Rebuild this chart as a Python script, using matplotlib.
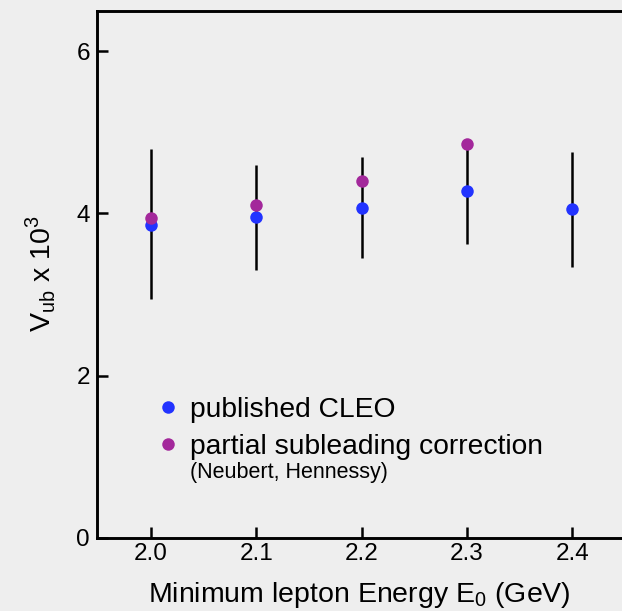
import numpy as np
import matplotlib
matplotlib.use("Agg")
import matplotlib.pyplot as plt

plt.rcParams['font.family'] = ['Liberation Sans', 'DejaVu Sans']
plt.rcParams['mathtext.fontset'] = 'custom'
plt.rcParams['mathtext.rm'] = 'Liberation Sans'

# minimum lepton energy cut (GeV)
e_cut = [2.0, 2.1, 2.2, 2.3, 2.4]
# published CLEO values (Vub x 10^3) with error bar ends
cleo = [3.86, 3.95, 4.07, 4.27, 4.05]
err_low = [2.94, 3.30, 3.45, 3.62, 3.34]
err_high = [4.79, 4.59, 4.70, 4.86, 4.76]
# with partial subleading correction
e_corr = [2.0, 2.1, 2.2, 2.3]
corrected = [3.94, 4.10, 4.40, 4.86]

x_ticks = [2.0, 2.1, 2.2, 2.3, 2.4]
y_ticks = [0, 2, 4, 6]

bg = '#eeeeee'
blue = '#2233ff'
purple = '#a3289b'

fig = plt.figure(figsize=(6.22, 6.11), dpi=100, facecolor=bg)
ax = fig.add_axes([0.156, 0.1198, 0.844, 0.863], facecolor=bg)

yerr = [np.array(cleo) - np.array(err_low), np.array(err_high) - np.array(cleo)]
ax.errorbar(e_cut, cleo, yerr=yerr, fmt='none', ecolor='black', elinewidth=1.8, capsize=0, zorder=1)
h1, = ax.plot(e_cut, cleo, 'o', color=blue, markersize=9, markeredgewidth=0, zorder=2,
              label='published CLEO')
h2, = ax.plot(e_corr, corrected, 'o', color=purple, markersize=9, markeredgewidth=0, zorder=3,
              label='partial subleading correction')

ax.set_xlim(1.949, 2.447)
ax.set_ylim(0, 6.5)
ax.set_xticks(x_ticks)
ax.set_xticklabels([f'{v:.1f}' for v in x_ticks])
ax.set_yticks(y_ticks)
ax.tick_params(direction='in', length=7.7, width=1.8, labelsize=17.5, pad=5)
ax.tick_params(axis='x', pad=4)

for side in ['left', 'top', 'bottom']:
    ax.spines[side].set_linewidth(2.1)
ax.spines['right'].set_visible(False)

ax.set_xlabel(r'Minimum lepton Energy E$_\mathregular{0}$ (GeV)', fontsize=20.5, labelpad=10.5)
ax.set_ylabel(r'V$_\mathregular{ub}$ x 10$^\mathregular{3}$', fontsize=20.5, labelpad=13)

leg = ax.legend(handles=[h1, h2], loc='center left', bbox_to_anchor=(0.108, 0.2075),
                frameon=False, fontsize=20.3, borderpad=0, borderaxespad=0,
                handlelength=1.0, handletextpad=0.3, labelspacing=0.38)
ax.text(0.177, 0.124, '(Neubert, Hennessy)', transform=ax.transAxes, fontsize=15.5,
        va='center', ha='left')

fig.savefig('out.png', dpi=100, facecolor=bg)
